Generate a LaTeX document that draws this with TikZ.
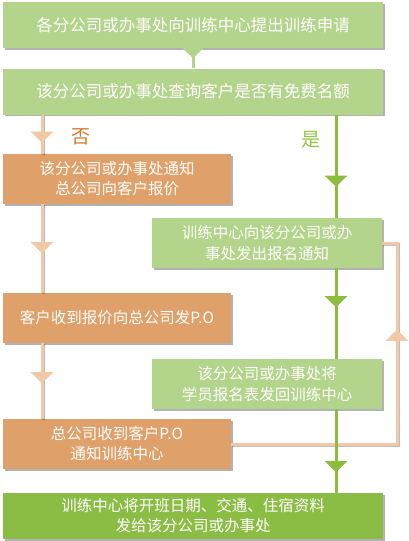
\documentclass[tikz,border=0pt]{standalone}
\usepackage{fontspec}
\setmainfont{Noto Sans CJK SC}
\usetikzlibrary{arrows.meta,shadows,decorations.markings}
\definecolor{lgreen}{HTML}{B3D48B}
\definecolor{dgreen}{HTML}{8BBD44}
\definecolor{obox}{HTML}{E0A06A}
\definecolor{oline}{HTML}{F2C9A6}
\definecolor{gline}{HTML}{8CBD3E}
\definecolor{notxt}{HTML}{D27A2E}
\definecolor{yestxt}{HTML}{8DC63F}
\tikzset{
  boxbase/.style={rectangle, inner sep=0pt, text=white, align=center,
    drop shadow={shadow xshift=1.5pt, shadow yshift=-1.5pt, fill=black, opacity=0.3}},
  widebox/.style={boxbase, fill=lgreen, minimum width=380pt, minimum height=46pt,
    font=\fontsize{16.5}{20}\selectfont},
  lbox/.style={boxbase, fill=obox, minimum width=228pt, minimum height=50pt,
    font=\fontsize{15.5}{20}\selectfont},
  rbox/.style={boxbase, fill=lgreen, minimum width=230pt, minimum height=50pt,
    font=\fontsize{15.5}{20.5}\selectfont},
  endbox/.style={boxbase, fill=dgreen, minimum width=380pt, minimum height=46pt,
    font=\fontsize{15.5}{20}\selectfont},
  arrowat/.style={postaction={decorate}, decoration={markings,
    mark=at position #1 with {\arrow{Triangle[width=22pt,length=11pt]}}}},
  lineshadow/.style={preaction={draw=black, opacity=0.25, line width=3pt,
    transform canvas={xshift=1pt, yshift=-1pt}}},
  gconn/.style={line width=3pt, color=gline},
  oconn/.style={line width=3pt, color=oline, lineshadow},
  tconn/.style={line width=3pt, color=lgreen},
  lbl/.style={font=\fontsize{19}{19}\selectfont, inner sep=0pt}
}
\begin{document}
\begin{tikzpicture}[x=1pt,y=-1pt]
\useasboundingbox (0,0) rectangle (409,541);
\coordinate (lx) at (42,0);
\coordinate (gx) at (336,0);
\node[widebox] (b1) at (193,25) {各分公司或办事处向训练中心提出训练申请};
\node[widebox] (b2) at (193,91.5) {该分公司或办事处查询客户是否有免费名额};
\node[lbox] (o1) at (117,179) {该分公司或办事处通知\\总公司向客户报价};
\node[rbox] (g1) at (267,243) {训练中心向该分公司或办\\事处发出报名通知};
\node[lbox] (o2) at (117,318) {客户收到报价向总公司发P.O};
\node[rbox] (g2) at (267,384) {该分公司或办事处将\\学员报名表发回训练中心};
\node[lbox] (o3) at (117,444) {总公司收到客户P.O\\通知训练中心};
\node[endbox] (f) at (193,516) {训练中心将开班日期、交通、住宿资料\\发给该分公司或办事处};
\coordinate (loop) at (397,243);
% connectors
\draw[tconn, arrowat=10pt] (b1.south) -- (b2.north);
\draw[oconn, arrowat=28pt] (b2.south -| lx) -- (o1.north -| lx);
\draw[oconn, arrowat=49pt] (o1.south -| lx) -- (o2.north -| lx);
\draw[oconn, arrowat=40pt] (o2.south -| lx) -- (o3.north -| lx);
\draw[oconn, arrowat=280pt] (o3.east) -| (loop) -- (g1.east);
\draw[gconn, arrowat=72pt] (b2.south -| gx) -- (g1.north -| gx);
\draw[gconn, arrowat=39pt] (g1.south -| gx) -- (g2.north -| gx);
\draw[gconn, arrowat=63pt] (g2.south -| gx) -- (f.north -| gx);
\node[lbl, text=notxt] (no) at (81,137) {否};
\node[lbl, text=yestxt] (yes) at (311,140) {是};
\end{tikzpicture}
\end{document}
